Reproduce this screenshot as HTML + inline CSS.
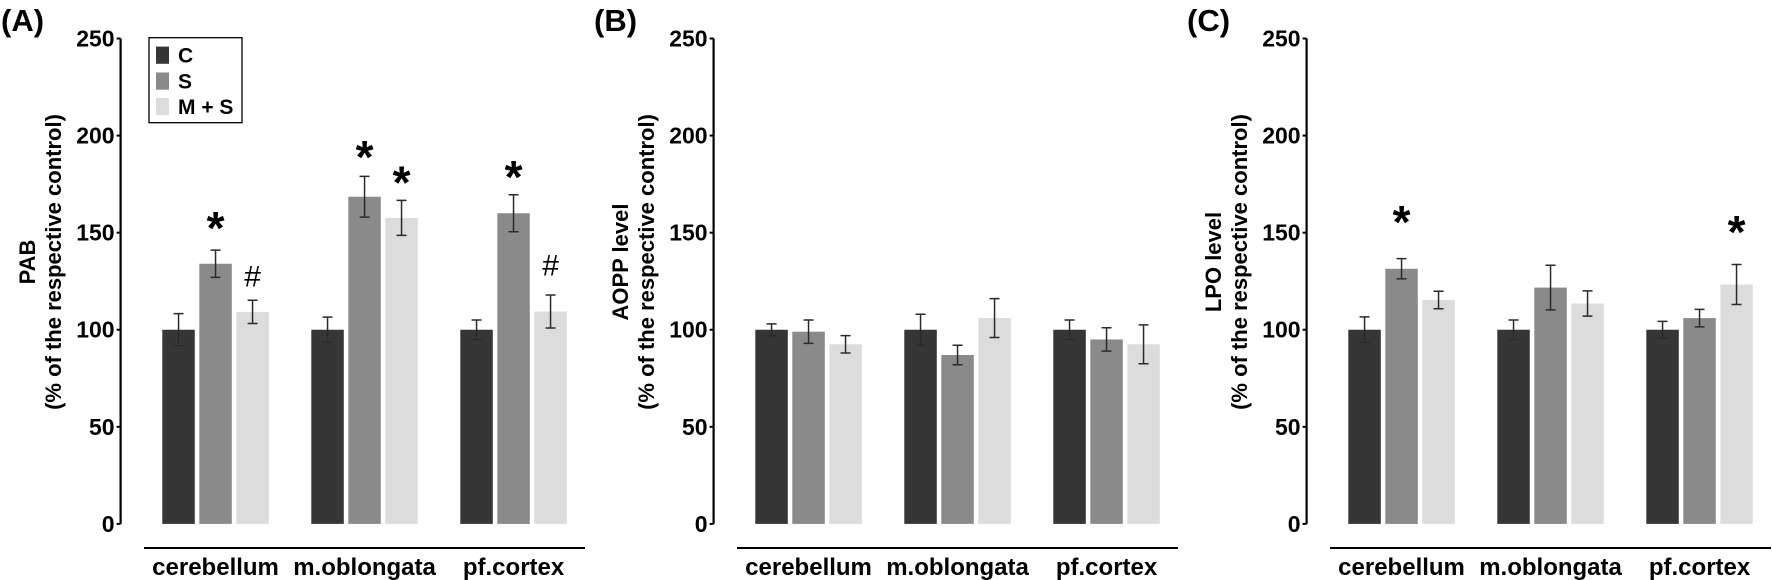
<!DOCTYPE html>
<html><head><meta charset="utf-8"><style>
html,body{margin:0;padding:0;background:#fff;width:1772px;height:580px;overflow:hidden}
svg{display:block;font-family:"Liberation Sans",Arial,sans-serif;font-weight:bold}
</style></head><body>
<svg id="chart" width="1772" height="580" viewBox="0 0 1772 580" xmlns="http://www.w3.org/2000/svg"></svg>
<script>
const categories = ["cerebellum","m.oblongata","pf.cortex"];
const seriesNames = ["C","S","M + S"];
const panelLabels = ["(A)","(B)","(C)"];
const yTitles = ["PAB","AOPP level","LPO level"];
const yTicks = [0,50,100,150,200,250];
// values [series][category]
const valuesA = [[100,100,100],[134,168.5,160],[109.2,157.6,109.4]];
const errorsA = [[8.3,6.5,5],[7,10.5,9.5],[6,9,8.5]];
const valuesB = [[100,100,100],[99,87,95],[92.5,106,92.5]];
const errorsB = [[3,8,5],[6,5,6],[4.5,10,10]];
const valuesC = [[100,100,100],[131.4,121.7,106],[115.3,113.5,123.3]];
const errorsC = [[6.6,5,4.3],[5.2,11.5,4.5],[4.5,6.5,10.3]];
// markers: [panel, series, category, yValue, symbol]
const markers = [[0,1,0,155.5,"*"],[0,2,0,128,"#"],[0,1,1,192,"*"],[0,2,1,179,"*"],[0,1,2,181.7,"*"],[0,2,2,133.6,"#"],[2,1,0,158.7,"*"],[2,2,2,153.5,"*"]];

const values=[valuesA,valuesB,valuesC], errors=[errorsA,errorsB,errorsC];
const colors=["#363636","#8a8a8a","#dcdcdc"];
const svg=document.getElementById('chart');
const NS="http://www.w3.org/2000/svg";
function mk(tag,attrs,parent,text){const e=document.createElementNS(NS,tag);for(const k in attrs)e.setAttribute(k,attrs[k]);if(text!==undefined)e.textContent=text;(parent||svg).appendChild(e);return e;}
const Y0=523.9, PX=1.9416;
function yScale(v){return Y0-v*PX;}
const panelOffsets=[0,593,1186];
function xBar(p,s,c){return panelOffsets[p]+162.3+c*149+s*37;}
const BW=32.5;

for(let p=0;p<3;p++){
  const ox=panelOffsets[p], ax=ox+120.6;
  const g=mk('g',{},svg);
  
  
  const pl=mk('text',{x:ox+1,y:31,'font-size':31},g,panelLabels[p]);
  
  
  const ya=mk('line',{x1:ax,y1:yScale(250),x2:ax,y2:Y0,stroke:'#000','stroke-width':2.2},g);
  
  
  yTicks.forEach(t=>{
    mk('line',{x1:ax-4,y1:yScale(t),x2:ax,y2:yScale(t),stroke:'#000','stroke-width':2},g);
    const tl=mk('text',{x:ax-6,y:yScale(t)+8,'font-size':23,'text-anchor':'end'},g,String(t));
    
    
  });
  const yt=mk('text',{transform:`translate(${ox+35},262) rotate(-90)`,'font-size':22,'text-anchor':'middle'},g);
  
  
  mk('tspan',{x:0,y:0},yt,yTitles[p]);
  mk('tspan',{x:0,y:26},yt,'(% of the respective control)');
  const xa=mk('line',{x1:ox+144,y1:548,x2:ox+585,y2:548,stroke:'#000','stroke-width':2},g);
  
  
  categories.forEach((c,ci)=>{
    const xl=mk('text',{x:xBar(p,1,ci)+BW/2,y:575,'font-size':24,'text-anchor':'middle'},g,c);
    
    
  });
  for(let s=0;s<3;s++)for(let c=0;c<3;c++){
    const v=values[p][s][c], e=errors[p][s][c], x=xBar(p,s,c);
    const b=mk('rect',{x:x,y:yScale(v),width:BW,height:Y0-yScale(v),fill:colors[s]},g);
    
    
    const cx=x+BW/2;
    const eb=mk('path',{d:`M${cx},${yScale(v+e)}V${yScale(v-e)}M${cx-5},${yScale(v+e)}H${cx+5}M${cx-5},${yScale(v-e)}H${cx+5}`,stroke:'#2a2a2a','stroke-width':1.5,fill:'none'},g);
    
    
  }
}
markers.forEach(m=>{
  const [p,s,c,v,sym]=m;
  const cx=xBar(p,s,c)+BW/2;
  const t=sym==='*'?mk('text',{x:cx,y:yScale(v)+22,'font-size':46,'text-anchor':'middle'},svg,sym)
                   :mk('text',{x:cx,y:yScale(v)+11,'font-size':30,'font-weight':'normal','text-anchor':'middle'},svg,sym);
  
  
});
const lg=mk('g',{},svg);


mk('rect',{x:149,y:37.7,width:93,height:85,fill:'#fff',stroke:'#000','stroke-width':1.3},lg);
const rowsY=[46.6,72.5,98];
seriesNames.forEach((n,i)=>{
  const sw=mk('rect',{x:156,y:rowsY[i],width:13,height:17.2,fill:colors[i]},lg);
  
  
  const lt=mk('text',{x:178,y:rowsY[i]+16,'font-size':21},lg,n);
  
  
});
</script>
</body></html>
